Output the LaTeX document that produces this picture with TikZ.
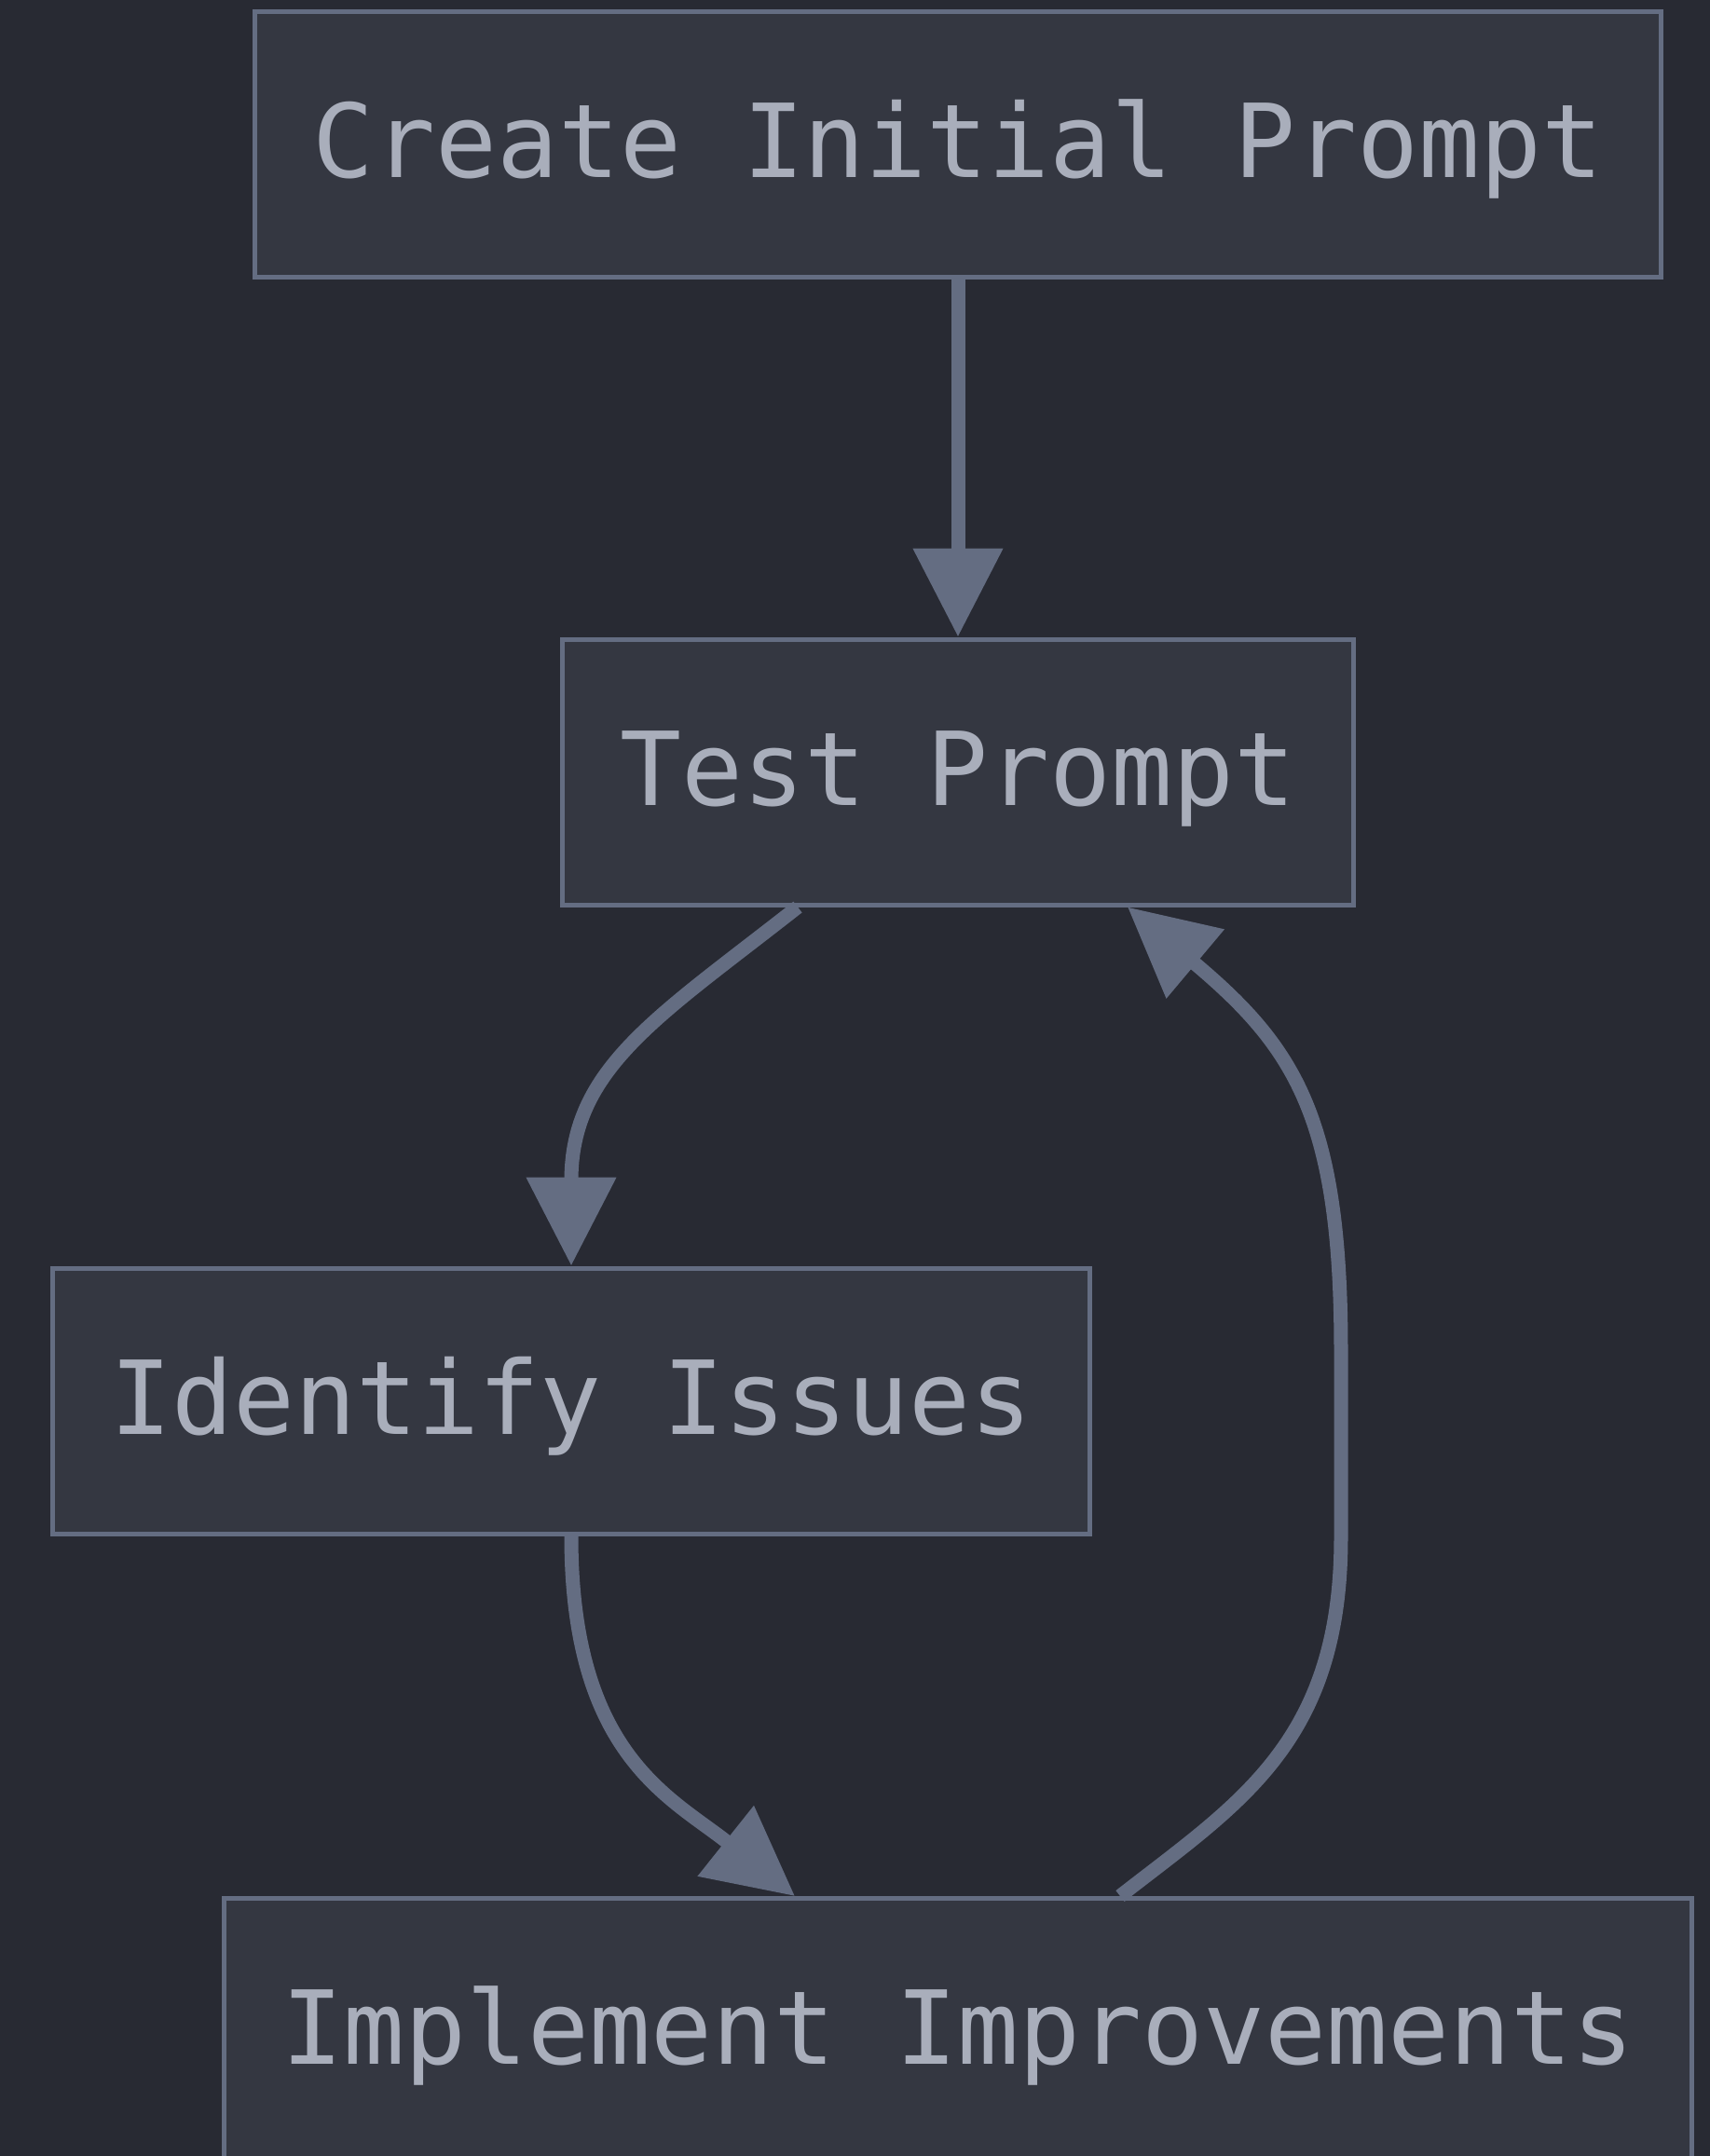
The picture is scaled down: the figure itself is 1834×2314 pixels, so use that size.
\documentclass[tikz,border=0pt]{standalone}
\usepackage{fontspec}
\setmonofont{DejaVu Sans Mono}
\usetikzlibrary{arrows.meta,positioning}
\definecolor{bgdark}{RGB}{40,42,51}
\definecolor{boxfill}{RGB}{52,55,65}
\definecolor{edgegray}{RGB}{100,109,130}
\definecolor{txtgray}{RGB}{169,174,187}
\tikzset{
    stepbox/.style={rectangle, draw=edgegray, fill=boxfill, line width=1.25pt, minimum height=71.25pt,
        inner xsep=15.5pt, text height=17.8pt, text depth=0pt, text=txtgray,
        font=\ttfamily\fontsize{27.4}{30}\selectfont},
    flow/.style={-{Triangle[length=23.75pt, width=23.25pt]}, draw=edgegray, line width=3.75pt}
}

\begin{document}
\begin{tikzpicture}[x=0.25pt, y=-0.25pt]
    % Background
    \useasboundingbox (0,0) rectangle (1834,2314);
    \fill[bgdark] (-10,-10) rectangle (1844,2324);

    % Steps
    \node[stepbox] (CREATE) at (1028, 154.5) {Create Initial Prompt};
    \node[stepbox] (TEST) at (1028, 828.5) {Test Prompt};
    \node[stepbox] (ISSUES) at (613, 1503.5) {Identify Issues};
    \node[stepbox] (IMPROVE) at (1028, 2180) {Implement Improvements};

    % Flow
    \draw[flow] (CREATE.south) -- (TEST.north);
    \draw[flow] ([xshift=-43pt]TEST.south) .. controls +(-150,118) and +(0,-212) .. (ISSUES.north);
    \draw[flow] (ISSUES.south) .. controls +(0,235) and +(-133,-106) .. ([xshift=-43.75pt]IMPROVE.north);

    % Loop back
    \draw[flow] ([xshift=43.5pt]IMPROVE.north) .. controls +(128,-100) and +(0,220) .. (1439,1650)
        -- (1439,1450) .. controls +(0,-250) and +(180,151) .. ([xshift=45.5pt]TEST.south);
\end{tikzpicture}
\end{document}
